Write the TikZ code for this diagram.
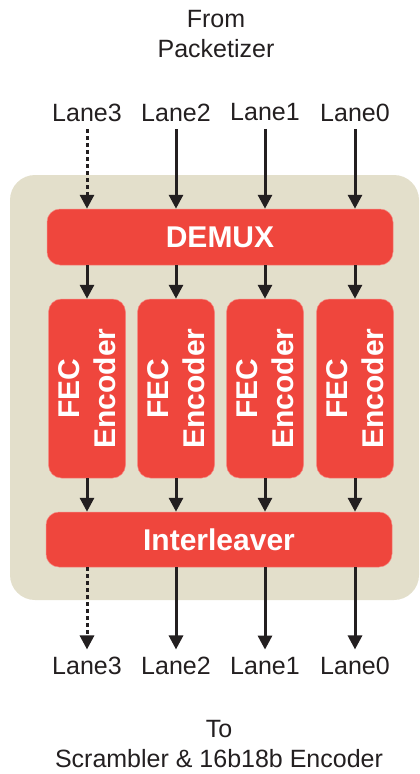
\documentclass[tikz,border=0pt]{standalone}
\usepackage{fontspec}
\setmainfont{Liberation Sans}
\usetikzlibrary{arrows.meta}
\definecolor{fecred}{HTML}{EF463D}
\definecolor{panel}{HTML}{E3DFCB}
\definecolor{ink}{HTML}{231F20}

\begin{document}
\begin{tikzpicture}[x=1pt,y=-1pt,
    plainlabel/.style={text=ink, align=center, inner sep=1pt, font=\fontsize{25}{30}\selectfont},
    lanelabel/.style={text=ink, inner sep=7.5pt, font=\fontsize{25}{30}\selectfont},
    redbox/.style={fill=fecred, draw=fecred!65!white, line width=0.5pt, rounded corners=13pt,
        text=white, inner sep=0pt, font=\bfseries\fontsize{30}{36}\selectfont},
    flow/.style={ink, line width=3pt, -{Triangle[width=14pt,length=14pt]}},
    dotflow/.style={flow, dash pattern=on 4pt off 3pt}]
    \useasboundingbox (0,0) rectangle (420,774);
    \fill[panel, rounded corners=25pt] (10,175) rectangle (419,600);

    \node[plainlabel] (src) at (216,34) {From\\Packetizer};
    \node[plainlabel] (dst) at (219,744) {To\\Scrambler \& 16b18b Encoder};

    \node[redbox, minimum width=346pt, minimum height=56pt] (demux) at (220,237) {DEMUX};
    \node[redbox, minimum width=346pt, minimum height=55pt] (inter) at (219,539.5) {Interleaver};

    % one column per lane
    \foreach \n/\x/\s in {3/87/dotflow, 2/176/flow, 1/265/flow, 0/355/flow} {
        \node[lanelabel] (in\n) at (\x,112.5) {Lane\n};
        \node[lanelabel] (out\n) at (\x,666) {Lane\n};
        \node[redbox, rotate=90, align=center, minimum width=179pt, minimum height=77pt] (fec\n) at (\x,388.5) {FEC\\Encoder};

        \draw[\s] (in\n) -- (in\n |- demux.north);
        \draw[flow] (fec\n.east |- demux.south) -- (fec\n.east);
        \draw[flow] (fec\n.west) -- (fec\n.west |- inter.north);
        \draw[\s] (out\n |- inter.south) -- (out\n);
    }
\end{tikzpicture}
\end{document}
